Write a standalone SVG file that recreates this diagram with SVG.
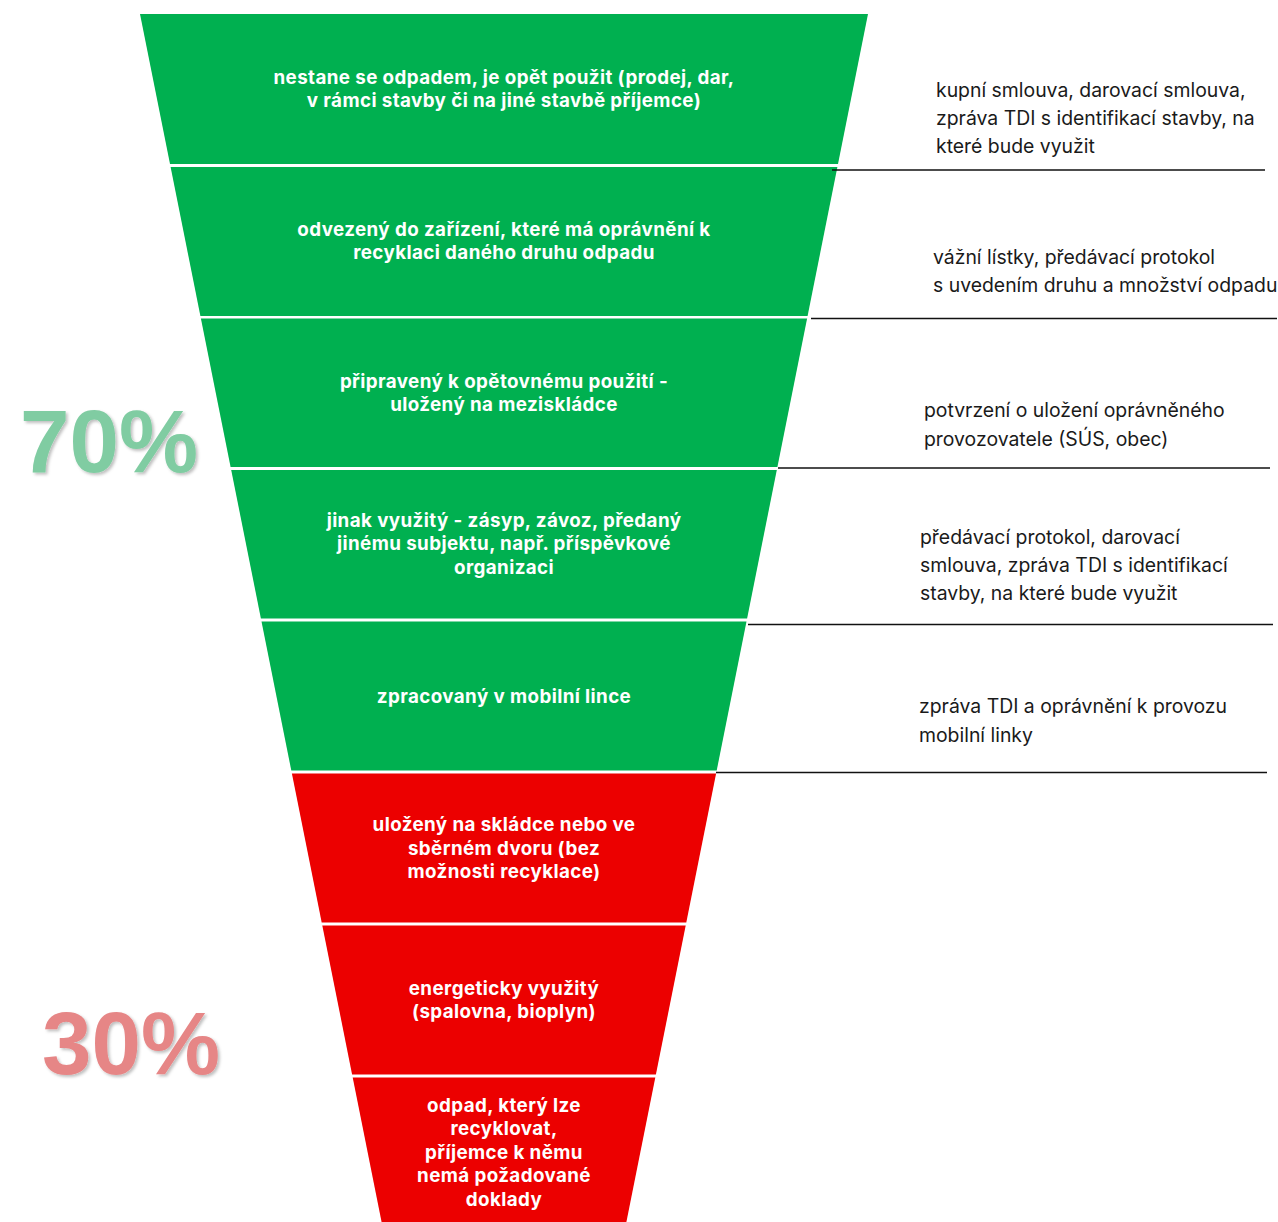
<svg xmlns="http://www.w3.org/2000/svg" width="1278" height="1222" viewBox="0 0 1278 1222">
  <defs>
    <style>
      .g { fill: #00B050; }
      .r { fill: #EC0000; }
      .lbl { font-family: Inter, "Open Sans", sans-serif; font-weight: 700; font-size: 18.8px; letter-spacing: 0.4px; fill: #ffffff; text-anchor: middle; }
      .note { font-family: Inter, "Open Sans", sans-serif; font-size: 19.4px; fill: #1a1a1a; }
      .sep { stroke: #111111; stroke-width: 1.3; fill: none; }
      .pct { font-family: "Liberation Sans", Arial, sans-serif; font-weight: 700; font-size: 89px; }
    </style>
    <filter id="shadow" x="-10%" y="-10%" width="130%" height="130%">
      <feDropShadow dx="2" dy="2" stdDeviation="1.5" flood-color="#000000" flood-opacity="0.25"/>
    </filter>
  </defs>
  <rect width="1278" height="1222" fill="#ffffff"/>

  <g id="band1">
    <polygon class="g" points="140,14 868,14 838,164 170,164"/>
    <text class="lbl" x="504" y="84">nestane se odpadem, je opět použit (prodej, dar,</text>
    <text class="lbl" x="504" y="107">v rámci stavby či na jiné stavbě příjemce)</text>
  </g>
  <g id="band2">
    <polygon class="g" points="170.6,167 837.4,167 807.6,316 200.4,316"/>
    <text class="lbl" x="504" y="236">odvezený do zařízení, které má oprávnění k</text>
    <text class="lbl" x="504" y="259">recyklaci daného druhu odpadu</text>
  </g>
  <g id="band3">
    <polygon class="g" points="200.9,318.5 807.1,318.5 777.4,467 230.6,467"/>
    <text class="lbl" x="504" y="388">připravený k opětovnému použití -</text>
    <text class="lbl" x="504" y="411">uložený na meziskládce</text>
  </g>
  <g id="band4">
    <polygon class="g" points="231.2,470 776.8,470 747.1,618.5 260.9,618.5"/>
    <text class="lbl" x="504" y="527">jinak využitý - zásyp, závoz, předaný</text>
    <text class="lbl" x="504" y="550">jinému subjektu, např. příspěvkové</text>
    <text class="lbl" x="504" y="574">organizaci</text>
  </g>
  <g id="band5">
    <polygon class="g" points="261.5,621.5 746.5,621.5 716.7,770.5 291.3,770.5"/>
    <text class="lbl" x="504" y="703">zpracovaný v mobilní lince</text>
  </g>
  <g id="band6">
    <polygon class="r" points="291.9,773.5 716.1,773.5 686.3,922.5 321.7,922.5"/>
    <text class="lbl" x="504" y="831">uložený na skládce nebo ve</text>
    <text class="lbl" x="504" y="855">sběrném dvoru (bez</text>
    <text class="lbl" x="504" y="878">možnosti recyklace)</text>
  </g>
  <g id="band7">
    <polygon class="r" points="322.3,925.5 685.7,925.5 655.9,1074.5 352.1,1074.5"/>
    <text class="lbl" x="504" y="995">energeticky využitý</text>
    <text class="lbl" x="504" y="1018">(spalovna, bioplyn)</text>
  </g>
  <g id="band8">
    <polygon class="r" points="352.7,1077.5 655.3,1077.5 625.2,1228 382.8,1228"/>
    <text class="lbl" x="504" y="1112">odpad, který lze</text>
    <text class="lbl" x="504" y="1135">recyklovat,</text>
    <text class="lbl" x="504" y="1159">příjemce k němu</text>
    <text class="lbl" x="504" y="1182">nemá požadované</text>
    <text class="lbl" x="504" y="1206">doklady</text>
  </g>

  <g id="pct70">
    <text class="pct" x="20" y="472" fill="#80CCA2" filter="url(#shadow)">70%</text>
  </g>
  <g id="pct30">
    <text class="pct" x="42" y="1074" fill="#E68686" filter="url(#shadow)">30%</text>
  </g>

  <g id="note1">
    <text class="note" x="936" y="97">kupní smlouva, darovací smlouva,</text>
    <text class="note" x="936" y="125">zpráva TDI s identifikací stavby, na</text>
    <text class="note" x="936" y="153">které bude využit</text>
  </g>
  <g id="note2">
    <text class="note" x="933" y="264">vážní lístky, předávací protokol</text>
    <text class="note" x="933" y="292">s uvedením druhu a množství odpadu</text>
  </g>
  <g id="note3">
    <text class="note" x="924" y="417">potvrzení o uložení oprávněného</text>
    <text class="note" x="924" y="446">provozovatele (SÚS, obec)</text>
  </g>
  <g id="note4">
    <text class="note" x="920" y="544">předávací protokol, darovací</text>
    <text class="note" x="920" y="572">smlouva, zpráva TDI s identifikací</text>
    <text class="note" x="920" y="600">stavby, na které bude využit</text>
  </g>
  <g id="note5">
    <text class="note" x="919" y="713">zpráva TDI a oprávnění k provozu</text>
    <text class="note" x="919" y="742">mobilní linky</text>
  </g>

  <g id="connectors">
    <line class="sep" x1="832" y1="170" x2="1265" y2="170"/>
    <line class="sep" x1="811" y1="318.5" x2="1277" y2="318.5"/>
    <line class="sep" x1="778" y1="468" x2="1270" y2="468"/>
    <line class="sep" x1="748" y1="624.5" x2="1273" y2="624.5"/>
    <line class="sep" x1="716" y1="772.5" x2="1267" y2="772.5"/>
  </g>
</svg>
